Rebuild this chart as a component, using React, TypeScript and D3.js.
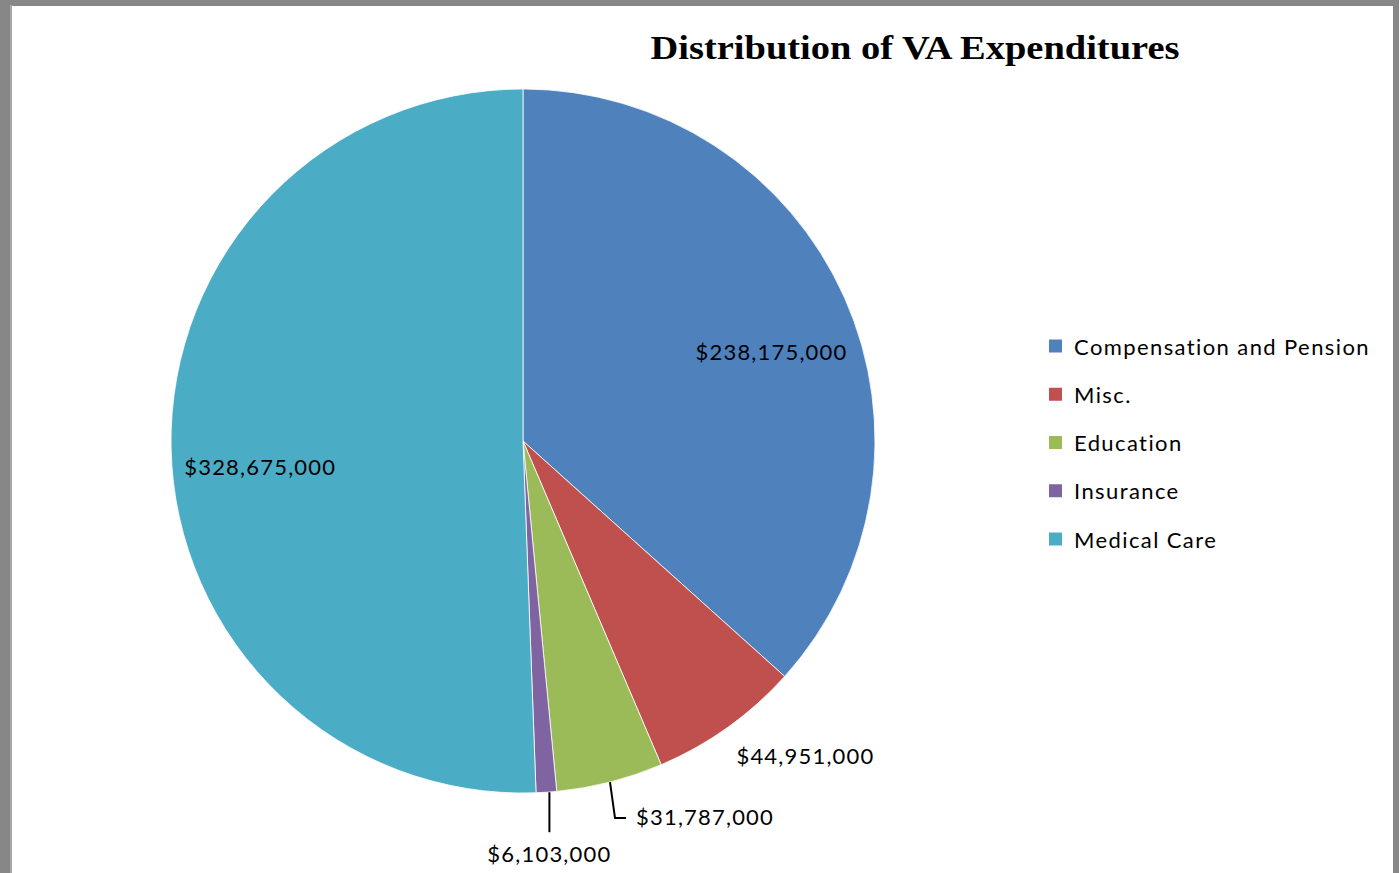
import React from "react";
import * as d3 from "d3";

const categories = ["Compensation and Pension", "Misc.", "Education", "Insurance", "Medical Care"];
const values = [238175000, 44951000, 31787000, 6103000, 328675000];
const colors = ["#4F81BD", "#C0504D", "#9BBB59", "#8064A2", "#4BACC6"];
const title = "Distribution of VA Expenditures";

// label layout: [angle offset (deg) from slice mid, radius factor, leader]
const labelLayout = [
  { dAng: 4.3, rf: 0.75, leader: false },
  { dAng: -6.4, rf: 1.2, leader: false },
  { dAng: 0, rf: 1.0, leader: true },
  { dAng: 0, rf: 1.0, leader: true },
  { dAng: -4.5, rf: 0.75, leader: false },
];

const W = 1399;
const H = 873;
const cx = 523;
const cy = 441;
const R = 352;
const fmt = d3.format("$,");
const sansFont = "Lato, 'Open Sans', sans-serif";
const labelSpacing = 1.2;

export default function App() {
  const data = categories.map((c, i) => ({ c, v: values[i], color: colors[i], i }));
  const pie = d3.pie<any>().sort(null).value((d: any) => d.v);
  const arcs = pie(data);
  const arcGen = d3.arc<any>().innerRadius(0).outerRadius(R);

  const polar = (ang: number, r: number) => [cx + r * Math.sin(ang), cy - r * Math.cos(ang)];

  const labels = arcs.map((a, i) => {
    const mid = (a.startAngle + a.endAngle) / 2;
    const L = labelLayout[i];
    const text = fmt(a.data.v);
    if (!L.leader) {
      const [x, y] = polar(mid + (L.dAng * Math.PI) / 180, L.rf * R);
      return (
        <text key={i} x={x} y={y} textAnchor="middle" dominantBaseline="central"
          fontFamily={sansFont} fontSize={22} letterSpacing={labelSpacing} fill="#000">{text}</text>
      );
    }
    const [ex, ey] = polar(mid, R);
    if (i === 2) {
      const y2 = ey + 36;
      const x2 = ex + 5;
      return (
        <g key={i}>
          <polyline points={`${ex},${ey} ${x2},${y2} ${x2 + 11},${y2}`} fill="none" stroke="#000" strokeWidth={2} />
          <text x={x2 + 21} y={y2 - 2} dominantBaseline="central" fontFamily={sansFont} fontSize={22}
            letterSpacing={labelSpacing} fill="#000">{text}</text>
        </g>
      );
    }
    const x2 = ex + 3;
    const y2 = ey + 40;
    return (
      <g key={i}>
        <line x1={x2} y1={ey} x2={x2} y2={y2} stroke="#000" strokeWidth={2} />
        <text x={x2} y={y2 + 21} textAnchor="middle" dominantBaseline="central" fontFamily={sansFont}
          fontSize={22} letterSpacing={labelSpacing} fill="#000">{text}</text>
      </g>
    );
  });

  const legendY = d3.scalePoint<number>().domain(d3.range(categories.length)).range([346, 539]);

  return (
    <svg width={W} height={H} style={{ position: "fixed", left: 0, top: 0 }}>
      <rect x={0} y={0} width={W} height={H} fill="#878787" />
      <rect x={10} y={5} width={2} height={H} fill="#a8a8a8" />
      <rect x={12} y={6} width={1381} height={H} fill="#ffffff" />
      <text x={915} y={59} textAnchor="middle" fontFamily="'Liberation Serif', 'DejaVu Serif', serif"
        fontWeight="bold" fontSize={34} textLength={529} lengthAdjust="spacingAndGlyphs" fill="#000">{title}</text>
      <g>
        {arcs.map((a, i) => (
          <path key={i} d={arcGen(a) as string} transform={`translate(${cx},${cy})`} fill={a.data.color}
            stroke="#ffffff" strokeWidth={0.8} />
        ))}
      </g>
      {labels}
      <g>
        {categories.map((c, i) => (
          <g key={c} transform={`translate(1049,${legendY(i)})`}>
            <rect x={0} y={-6.5} width={13} height={13} fill={colors[i]} />
            <text x={25} y={0} dominantBaseline="central" fontFamily={sansFont} fontSize={22}
              letterSpacing={1.4} fill="#000">{c}</text>
          </g>
        ))}
      </g>
    </svg>
  );
}
